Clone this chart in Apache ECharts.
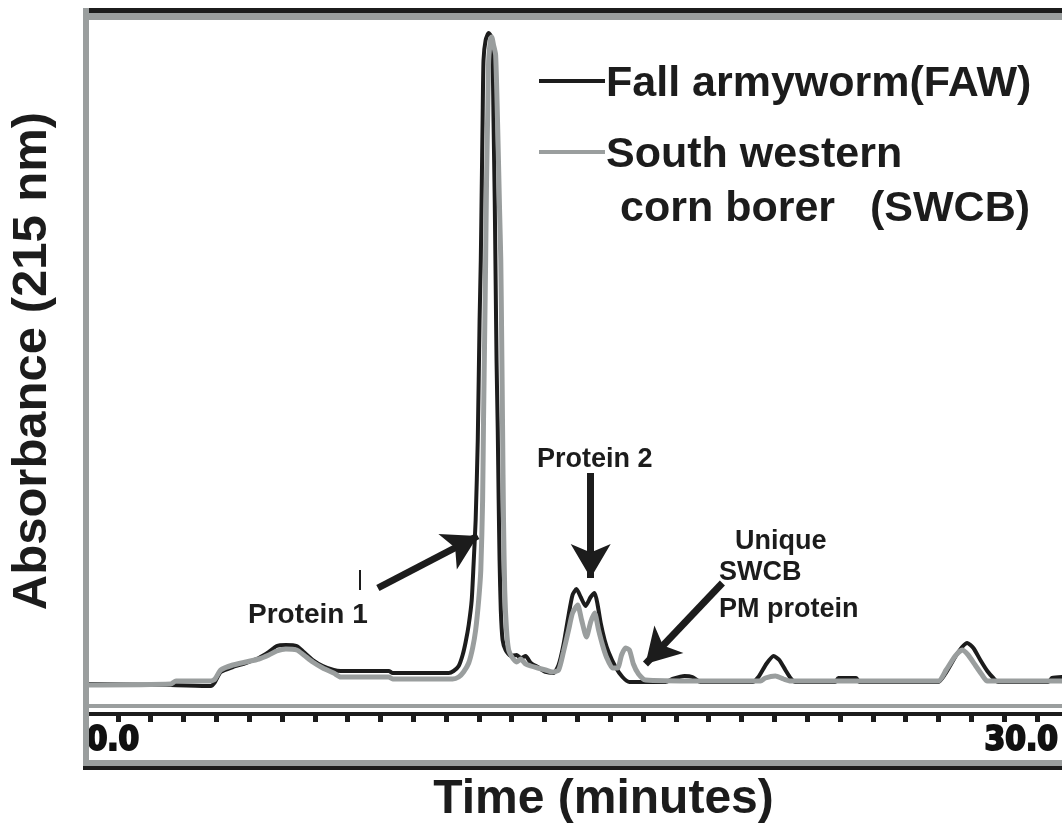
<!DOCTYPE html>
<html>
<head>
<meta charset="utf-8">
<script src="https://cdn.jsdelivr.net/npm/echarts@6/dist/echarts.min.js"></script>
<style>
html,body{margin:0;padding:0;background:#fff;overflow:hidden;width:1062px;height:840px;}
#chart{width:1122px;height:840px;}
</style>
</head>
<body>
<div id="chart"></div>
<script>
// Fall armyworm (FAW) trace: time (min) and absorbance (mAU, arbitrary)
const fawTime = [-0.92,1.91,3.23,3.37,3.56,3.96,4.39,4.82,5.15,5.41,5.71,6.07,6.30,6.60,6.93,7.29,7.52,9.11,9.24,11.09,11.25,11.42,11.55,11.65,11.75,11.85,11.91,11.98,12.05,12.11,12.15,12.18,12.21,12.24,12.31,12.41,12.48,12.54,12.57,12.61,12.64,12.67,12.71,12.74,12.77,12.81,12.87,12.97,13.14,13.33,13.47,13.63,13.80,14.03,14.29,14.55,14.72,14.88,15.05,15.18,15.31,15.45,15.61,15.78,15.91,16.01,16.11,16.24,16.37,16.60,16.83,17.06,18.25,18.48,18.88,19.14,19.41,21.12,21.32,21.58,21.82,22.01,22.21,22.38,22.54,23.86,23.96,24.55,24.65,27.26,27.49,27.82,28.05,28.22,28.42,28.65,28.88,29.08,29.24,30.89,31.02,31.35,33.3];
const fawAbs  = [22,21,20,24,34,39,43,48,54,60,61,60,54,46,40,36,35,35,33,33,35,40,51,64,81,106,141,186,266,386,446,516,586,646,666,673,670,646,586,506,426,346,276,206,146,96,66,56,50,51,48,50,43,39,34,33,41,61,91,111,117,109,100,109,113,101,83,66,54,39,29,24,24,27,30,29,24,24,29,42,50,46,36,28,24,24,28,28,24,24,32,49,59,63,58,46,35,28,24,24,28,29,30];
// South western corn borer (SWCB) trace
const swcbTime = [-0.92,1.91,2.08,3.23,3.37,3.56,3.96,4.39,4.82,5.15,5.41,5.71,6.07,6.30,6.60,6.93,7.29,7.52,9.11,9.24,11.22,11.42,11.58,11.75,11.88,11.98,12.08,12.15,12.21,12.24,12.28,12.31,12.34,12.38,12.41,12.48,12.51,12.57,12.64,12.71,12.77,12.81,12.84,12.87,12.90,12.94,13.00,13.07,13.20,13.33,13.47,13.63,13.80,14.03,14.29,14.52,14.72,14.88,15.05,15.18,15.35,15.48,15.64,15.78,15.91,16.04,16.17,16.30,16.50,16.67,16.80,16.93,17.06,17.19,17.36,17.59,19.41,21.39,21.55,21.88,22.15,22.38,27.26,27.52,27.82,28.05,28.25,28.48,28.71,28.88,33.3];
const swcbAbs  = [21,22,25,25,27,36,41,44,47,51,55,57,56,51,44,38,33,29,29,27,27,29,34,43,58,76,106,136,206,286,376,446,526,596,646,668,669,661,651,576,496,446,366,276,186,116,76,56,48,44,47,42,40,38,36,34,36,54,76,93,101,86,69,84,93,76,61,49,38,38,51,58,56,42,32,26,25,25,28,30,27,25,25,36,50,56,51,41,31,25,25];
// Axis tick labels
const timeLabels = [0, 30];

const seriesNames = ['Fall armyworm(FAW)', 'South western corn borer (SWCB)'];
const fawData = fawTime.map((t, i) => [t, fawAbs[i]]);
const swcbData = swcbTime.map((t, i) => [t, swcbAbs[i]]);

const F = '"Liberation Sans", Arial, sans-serif';
const DARK = '#1c1c1c';
const GRAY = '#9a9e9e';

const chart = echarts.init(document.getElementById('chart'));
chart.setOption({
  animation: false,
  backgroundColor: '#fff',
  grid: { left: 84, right: 0, top: 16, bottom: 134 },
  xAxis: [{
    type: 'value', gridIndex: 0, min: -0.924, max: 33.33,
    name: 'Time (minutes)', nameLocation: 'middle', nameGap: 70,
    nameTextStyle: { fontFamily: F, fontWeight: 'bold', fontSize: 48, color: DARK },
    axisLine: { show: true, lineStyle: { color: GRAY, width: 4 } },
    axisTick: { show: false },
    splitLine: { show: false },
    axisLabel: {
      show: true, customValues: timeLabels, margin: 19,
      formatter: v => v.toFixed(1),
      fontFamily: '"Liberation Sans Narrow", "DejaVu Sans Condensed", "Liberation Sans", sans-serif',
      fontWeight: 'bold', fontSize: 33, color: '#111',
      textBorderColor: '#111', textBorderWidth: 2
    }
  }, {
    type: 'value', gridIndex: 0, position: 'bottom', offset: 8,
    min: 0, max: 31.59, interval: 1,
    axisLine: { show: true, lineStyle: { color: DARK, width: 4 } },
    axisTick: { show: true, length: 8, lineStyle: { color: DARK, width: 5 } },
    axisLabel: { show: false },
    splitLine: { show: false }
  }],
  yAxis: {
    type: 'value', min: 0, max: 690,
    name: 'Absorbance (215 nm)', nameLocation: 'middle', nameGap: 28, nameRotate: 90,
    nameTextStyle: { fontFamily: F, fontWeight: 'bold', fontSize: 49, color: DARK },
    axisLine: { show: false }, axisTick: { show: false },
    axisLabel: { show: false }, splitLine: { show: false }
  },
  series: [{
    name: seriesNames[0], type: 'line', xAxisIndex: 0, data: fawData,
    showSymbol: false, symbol: 'none', smooth: 0.2,
    lineStyle: { color: DARK, width: 4 }, z: 2,
    markLine: {
      silent: true, animation: false, symbol: ['none', 'arrow'], symbolSize: [30, 34],
      label: { show: false },
      lineStyle: { color: DARK, width: 7, type: 'solid' },
      data: [
        [{ coord: [8.75, 118] }, { coord: [12.05, 170] }],
        [{ coord: [15.78, 233] }, { coord: [15.78, 128] }],
        [{ coord: [20.13, 123] }, { coord: [17.59, 42] }],
        [{ coord: [8.15, 136], symbol: 'none', lineStyle: { width: 2 } }, { coord: [8.15, 116], symbol: 'none' }]
      ]
    }
  }, {
    name: seriesNames[1], type: 'line', xAxisIndex: 0, data: swcbData,
    showSymbol: false, symbol: 'none', smooth: 0.2,
    lineStyle: { color: GRAY, width: 5 }, z: 3
  }],
  graphic: [
    // frame
    { type: 'rect', shape: { x: 83, y: 8, width: 1100, height: 5 }, style: { fill: DARK }, z: 100 },
    { type: 'rect', shape: { x: 83, y: 13, width: 1100, height: 7 }, style: { fill: GRAY }, z: 100 },
    { type: 'rect', shape: { x: 83, y: 8, width: 6, height: 762 }, style: { fill: GRAY }, z: 100 },
    { type: 'rect', shape: { x: 83, y: 760, width: 1100, height: 6 }, style: { fill: GRAY }, z: 100 },
    { type: 'rect', shape: { x: 83, y: 766, width: 1100, height: 4 }, style: { fill: DARK }, z: 100 },
    // legend
    { type: 'rect', shape: { x: 539, y: 79, width: 66, height: 4 }, style: { fill: DARK }, z: 100 },
    { type: 'text', x: 606, y: 84, style: { text: 'Fall armyworm(FAW)', font: 'bold 43px ' + F, fill: DARK, verticalAlign: 'middle' }, z: 100 },
    { type: 'rect', shape: { x: 539, y: 150, width: 66, height: 4 }, style: { fill: GRAY }, z: 100 },
    { type: 'text', x: 606, y: 155, style: { text: 'South western', font: 'bold 43px ' + F, fill: DARK, verticalAlign: 'middle' }, z: 100 },
    { type: 'text', x: 620, y: 209, style: { text: 'corn borer', font: 'bold 43px ' + F, fill: DARK, verticalAlign: 'middle' }, z: 100 },
    { type: 'text', x: 870, y: 209, style: { text: '(SWCB)', font: 'bold 43px ' + F, fill: DARK, verticalAlign: 'middle' }, z: 100 },
    // annotations
    { type: 'text', x: 248, y: 615, style: { text: 'Protein 1', font: 'bold 28px ' + F, fill: DARK, verticalAlign: 'middle' }, z: 100 },
    { type: 'text', x: 537, y: 460, style: { text: 'Protein 2', font: 'bold 27px ' + F, fill: DARK, verticalAlign: 'middle' }, z: 100 },
    { type: 'text', x: 735, y: 542, style: { text: 'Unique', font: 'bold 27px ' + F, fill: DARK, verticalAlign: 'middle' }, z: 100 },
    { type: 'text', x: 719, y: 573, style: { text: 'SWCB', font: 'bold 27px ' + F, fill: DARK, verticalAlign: 'middle' }, z: 100 },
    { type: 'text', x: 719, y: 610, style: { text: 'PM protein', font: 'bold 27px ' + F, fill: DARK, verticalAlign: 'middle' }, z: 100 }
  ]
});
</script>
</body>
</html>
